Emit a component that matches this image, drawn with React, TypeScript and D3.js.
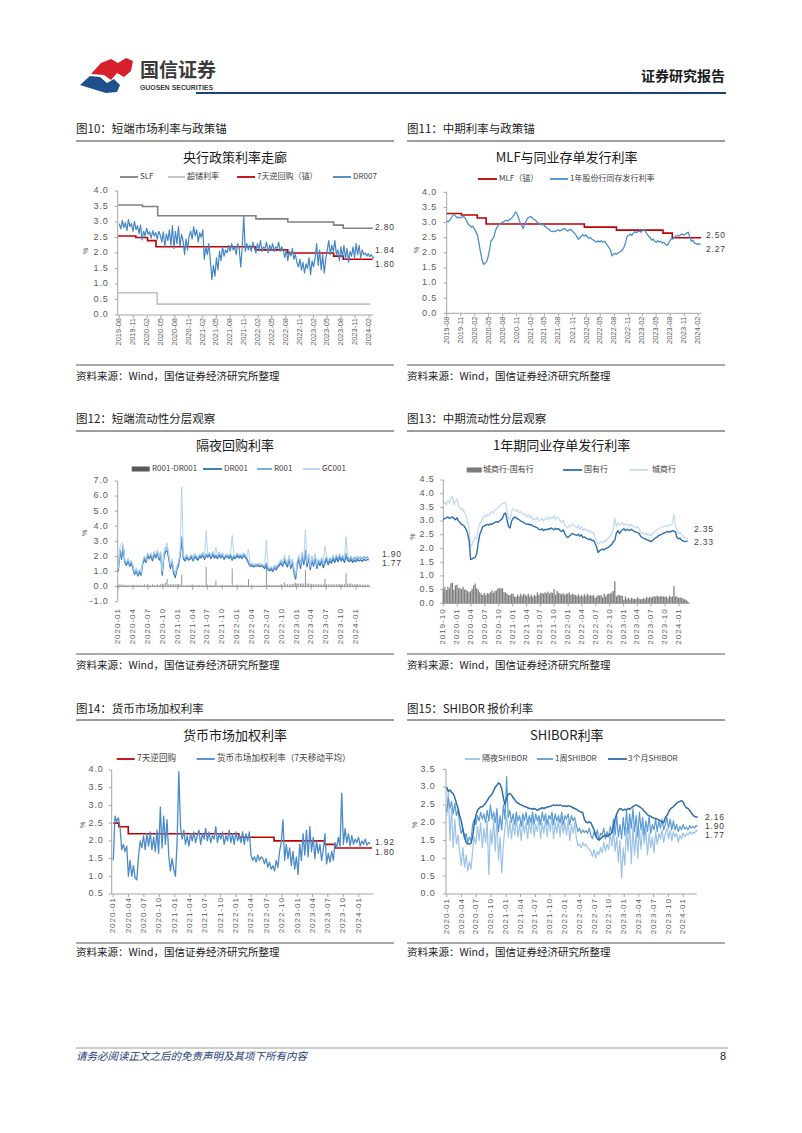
import React from 'react';
import * as d3 from 'd3';

const CJK = '"Noto Sans CJK SC","Noto Sans",sans-serif';
const NUM = '"Liberation Sans","DejaVu Sans",sans-serif';
const d = (s: string) => new Date(s + 'T00:00:00');

// ---------------- Chart 10 data ----------------
const slfDates = ['2019-07-24', '2020-01-01', '2020-04-10', '2022-01-17', '2022-08-15', '2023-06-13', '2023-08-15'];
const slfValues = [3.55, 3.5, 3.2, 3.1, 3.0, 2.9, 2.8];
const excessDates = ['2019-07-24', '2020-04-07'];
const excessValues = [0.72, 0.35];
const rrDates10 = ['2019-07-24', '2019-11-18', '2020-02-03', '2020-03-30', '2022-01-17', '2022-08-15', '2023-06-13', '2023-08-15'];
const rrValues10 = [2.55, 2.5, 2.4, 2.2, 2.1, 2.0, 1.9, 1.8];
const dr007 = [
  2.95, 2.78, 3.05, 2.82, 2.98, 2.72, 3.08, 2.85, 2.95, 2.7, 3.02,
  2.75, 2.88, 2.62, 2.9, 2.42, 2.7, 2.55, 2.8, 2.6,
  2.68, 2.48, 2.72, 2.55, 2.66, 2.45, 2.7, 2.58,
  2.35, 2.68, 2.2, 2.62, 2.4, 2.75,
  2.25, 2.88, 2.15, 2.7, 2.3, 2.85, 2.2, 2.6, 2.4,
  1.95, 2.45, 2.1, 2.55,
  2.7, 2.45, 2.85, 2.55, 2.75, 2.35, 2.65, 2.5,
  2.75, 1.8,
  2.2, 1.95, 2.3, 1.75,
  1.15, 1.6, 1.25, 1.85, 1.45,
  2.05, 1.75, 2.2, 1.9, 2.1, 2.0,
  2.25, 2.05, 2.3, 2.1, 2.2, 1.95, 2.3, 2.15, 1.55,
  2.2, 3.2, 2.05, 2.3,
  2.1, 2.25, 2.05, 2.35, 2.15, 2.0, 2.3, 2.1, 2.4, 2.05, 2.2, 2.15, 2.35, 2.0, 2.25, 2.1, 2.3, 2.05, 2.2, 2.15, 2.35, 2.05, 2.2, 2.1,
  1.85, 2.1, 1.75, 2.05, 1.9, 2.15, 1.8, 1.95, 1.7,
  1.55, 1.8, 1.45, 1.7, 1.35, 1.65, 1.5, 1.85, 1.3, 1.75, 1.55, 1.85,
  2.3, 1.6, 2.1, 1.45, 1.95, 1.35, 1.8, 2.1,
  2.4, 1.95, 2.25, 2.05, 2.4, 1.95,
  2.1, 1.75, 2.2, 1.85, 2.25, 1.8, 2.15, 1.7, 2.05, 1.9, 2.2,
  1.85, 2.3, 1.95, 2.25, 1.85, 2.1, 1.95,
  2.0, 1.9, 1.98, 1.88, 1.95, 1.86, 1.84,
];

// ---------------- Chart 11 data ----------------
const mlfDates = ['2019-08-01', '2019-11-05', '2020-02-17', '2020-04-15', '2022-01-17', '2022-08-15', '2023-06-15', '2023-08-15'];
const mlfValues = [3.3, 3.25, 3.15, 2.95, 2.85, 2.75, 2.65, 2.5];
const ncdJointStock = [
  3.05, 3.02, 3.08, 3.15, 3.25, 3.28, 3.2, 3.15, 3.18, 3.15,
  3.18, 3.2, 3.15, 3.05, 2.95, 2.9, 2.85, 2.88, 2.8, 2.7,
  2.6, 2.35, 2.05, 1.8, 1.62, 1.65, 1.7, 1.85, 2.1, 2.4,
  2.45, 2.55, 2.75, 2.85, 2.92, 2.95, 3.0, 3.02, 3.05, 3.08,
  3.05, 3.1, 3.12, 3.18, 3.25, 3.35, 3.3, 3.15, 3.0, 2.9,
  2.8, 2.95, 3.05, 3.15, 3.18, 3.2, 3.15, 3.1, 3.08, 3.02,
  2.98, 2.95, 2.92, 2.95, 2.88, 2.85, 2.8, 2.78, 2.72, 2.7,
  2.72, 2.7, 2.74, 2.76, 2.72, 2.75, 2.78, 2.8, 2.76, 2.72,
  2.75, 2.78, 2.72, 2.68, 2.62, 2.55, 2.45, 2.5, 2.55, 2.6,
  2.55, 2.6, 2.52, 2.48, 2.5, 2.45, 2.42, 2.38, 2.35, 2.4,
  2.36, 2.4, 2.35, 2.38, 2.33, 2.25, 2.18, 2.1, 1.9, 1.95,
  1.98, 1.95, 2.0, 2.02, 2.05, 2.1, 2.2, 2.35, 2.55, 2.58,
  2.62, 2.58, 2.65, 2.7, 2.66, 2.7, 2.72, 2.68, 2.75, 2.78,
  2.7, 2.62, 2.55, 2.5, 2.42, 2.45, 2.38, 2.35, 2.4, 2.36,
  2.38, 2.32, 2.35, 2.28, 2.25, 2.3, 2.4, 2.48, 2.45, 2.52,
  2.55, 2.58, 2.55, 2.6, 2.62, 2.58, 2.62, 2.65, 2.68, 2.5,
  2.38, 2.42, 2.32, 2.3, 2.28, 2.3, 2.27,
];

// ---------------- Chart 12 data ----------------
const dr001 = [
  1.0, 2.3, 1.8, 2.6, 1.6, 1.4, 1.7, 1.35, 1.55, 1.2,
  0.8, 1.05, 0.7, 0.95, 0.75, 1.5, 1.8, 1.6, 2.0, 1.85,
  2.05, 1.7, 2.15, 1.9, 2.2, 1.75, 2.1, 0.75, 1.95, 2.3,
  2.4, 1.85, 1.2, 1.6, 0.9, 0.6, 1.1, 1.4, 2.05, 3.0,
  1.85, 1.7, 1.95, 1.75, 1.8, 1.95, 1.7, 2.0, 1.85, 1.75,
  2.0, 1.9, 2.1, 1.8, 2.05, 1.95, 2.1, 1.85, 2.15, 1.9,
  2.0, 1.85, 2.1, 1.9, 2.05, 1.8, 1.95, 2.0, 1.85, 2.05,
  1.75, 1.95, 1.85, 2.05, 1.9, 2.0, 1.85, 2.05, 1.95, 1.8,
  1.55, 1.35, 1.4, 1.3, 1.38, 1.35, 1.4, 1.32, 1.38, 1.3,
  1.2, 1.45, 1.1, 1.05, 1.15, 1.0, 1.25, 1.1, 1.3, 1.4,
  1.55, 1.35, 1.7, 1.5, 1.3, 1.85, 1.2, 1.6, 0.9, 0.5,
  1.4, 1.8, 1.2, 2.0, 1.45, 2.2, 1.3, 1.9, 1.1, 1.75,
  1.35, 1.95, 1.2, 1.6, 1.4, 1.7, 1.25, 1.55, 1.8, 1.45,
  1.7, 1.55, 1.85, 1.6, 1.9, 1.65, 1.95, 1.7, 1.85, 1.6,
  2.0, 1.75, 1.65, 1.8, 1.6, 1.75, 1.65, 1.8, 1.7, 1.78,
  1.68, 1.82, 1.72, 1.8, 1.77,
];
const r001 = [
  1.1, 2.45, 1.9, 2.75, 1.7, 1.5, 1.8, 1.45, 1.65, 1.3,
  0.9, 1.15, 0.8, 1.05, 0.85, 1.6, 1.95, 1.7, 2.15, 1.95,
  2.15, 1.85, 2.25, 2.0, 2.35, 1.85, 2.25, 0.95, 2.1, 2.55,
  2.6, 2.0, 1.35, 1.75, 1.05, 0.75, 1.25, 1.55, 2.2, 3.3,
  1.95, 1.8, 2.05, 1.85, 1.9, 2.05, 1.8, 2.1, 1.95, 1.85,
  2.1, 2.0, 2.2, 1.9, 2.15, 2.05, 2.2, 1.95, 2.25, 2.0,
  2.1, 1.95, 2.2, 2.0, 2.15, 1.9, 2.05, 2.1, 1.95, 2.15,
  1.85, 2.05, 1.95, 2.15, 2.0, 2.1, 1.95, 2.15, 2.05, 1.9,
  1.65, 1.42, 1.48, 1.38, 1.45, 1.42, 1.48, 1.4, 1.45, 1.38,
  1.3, 1.55, 1.2, 1.15, 1.25, 1.1, 1.35, 1.2, 1.4, 1.5,
  1.7, 1.45, 1.85, 1.65, 1.45, 2.0, 1.35, 1.75, 1.1, 0.65,
  1.6, 2.0, 1.4, 2.2, 1.65, 2.4, 1.5, 2.1, 1.25, 1.95,
  1.5, 2.1, 1.35, 1.75, 1.55, 1.85, 1.4, 1.7, 1.95, 1.6,
  1.85, 1.7, 2.0, 1.75, 2.05, 1.8, 2.1, 1.85, 2.0, 1.75,
  2.2, 1.9, 1.8, 1.95, 1.75, 1.9, 1.8, 1.95, 1.85, 1.92,
  1.85, 1.96, 1.88, 1.94, 1.9,
];
const gc001 = [
  1.2, 2.6, 2.9, 2.8, 1.8, 1.6, 1.9, 1.55, 1.75, 1.4,
  1.0, 1.25, 0.9, 1.15, 0.95, 1.7, 2.05, 1.8, 2.25, 2.05,
  2.25, 1.95, 2.35, 2.1, 2.45, 1.95, 2.35, 1.05, 2.2, 2.65,
  2.9, 2.1, 1.45, 1.85, 1.15, 0.85, 1.35, 1.65, 2.3, 6.6,
  2.05, 1.9, 2.15, 1.95, 2.0, 2.15, 1.9, 2.2, 2.05, 1.95,
  2.2, 2.1, 2.3, 2.0, 3.7, 2.15, 2.3, 2.05, 2.35, 2.1,
  2.6, 2.05, 2.3, 2.1, 2.25, 2.0, 2.15, 2.2, 2.05, 2.25,
  3.4, 2.15, 2.05, 2.25, 2.1, 2.2, 2.05, 2.25, 2.15, 2.0,
  2.5, 1.5, 1.55, 1.45, 1.52, 1.5, 1.55, 1.48, 1.52, 1.45,
  1.4, 3.1, 1.3, 1.25, 1.35, 1.2, 1.45, 1.3, 1.5, 1.6,
  1.8, 1.55, 2.1, 1.75, 1.55, 2.1, 1.45, 1.85, 1.2, 0.75,
  1.7, 2.1, 1.5, 2.3, 1.75, 3.75, 1.6, 2.2, 1.35, 2.05,
  1.6, 2.2, 1.45, 1.85, 1.65, 1.95, 1.5, 2.7, 2.05, 1.7,
  1.95, 1.8, 2.1, 1.85, 2.15, 1.9, 2.2, 1.95, 2.1, 1.85,
  3.3, 2.0, 1.9, 2.05, 1.85, 2.0, 1.9, 2.05, 1.95, 2.0,
  1.95, 2.05, 1.98, 2.02, 1.92,
];
const r001Spread = [
  0.1, 0.15, 0.1, 0.15, 0.1, 0.1, 0.1, 0.1, 0.1, 0.1,
  0.1, 0.1, 0.1, 0.1, 0.1, 0.1, 0.15, 0.1, 0.15, 0.1,
  0.1, 0.15, 0.1, 0.1, 0.15, 0.1, 0.15, 0.2, 0.15, 0.25,
  0.5, 0.15, 0.15, 0.15, 0.15, 0.15, 0.15, 0.15, 0.15, 0.8,
  0.1, 0.1, 0.1, 0.1, 0.1, 0.1, 0.1, 0.1, 0.1, 0.1,
  0.1, 0.1, 0.1, 0.1, 1.3, 0.1, 0.1, 0.1, 0.1, 0.1,
  0.4, 0.1, 0.1, 0.1, 0.1, 0.1, 0.1, 0.1, 0.1, 0.1,
  1.2, 0.1, 0.1, 0.1, 0.1, 0.1, 0.1, 0.1, 0.1, 0.1,
  0.5, 0.07, 0.08, 0.08, 0.07, 0.07, 0.08, 0.08, 0.07, 0.08,
  0.1, 1.4, 0.1, 0.1, 0.1, 0.1, 0.1, 0.1, 0.1, 0.1,
  0.15, 0.1, 0.3, 0.15, 0.15, 0.15, 0.15, 0.15, 0.2, 0.25,
  0.2, 0.2, 0.2, 0.2, 0.2, 1.1, 0.2, 0.2, 0.15, 0.2,
  0.15, 0.15, 0.15, 0.15, 0.15, 0.15, 0.15, 0.5, 0.15, 0.15,
  0.15, 0.15, 0.15, 0.15, 0.15, 0.15, 0.15, 0.15, 0.15, 0.15,
  0.9, 0.2, 0.2, 0.2, 0.15, 0.15, 0.15, 0.15, 0.15, 0.14,
  0.12, 0.14, 0.12, 0.14, 0.13,
];

// ---------------- Chart 13 data ----------------
const stateBanks = [
  3.05, 3.1, 3.12, 3.15, 3.1, 3.12, 3.15, 3.1, 3.05, 3.12,
  3.0, 2.95, 2.88, 2.85, 2.8, 2.7, 2.55, 2.3, 1.6, 1.62,
  1.65, 1.68, 1.8, 2.2, 2.5, 2.65, 2.8, 2.82, 2.85, 2.88,
  2.85, 2.9, 2.88, 2.92, 2.95, 2.98, 2.95, 3.0, 3.05, 3.1,
  3.25, 3.3, 3.05, 2.8, 2.75, 3.0, 3.1, 3.15, 3.12, 3.08,
  3.05, 3.0, 2.98, 2.95, 2.9, 2.88, 2.9, 2.85, 2.88, 2.82,
  2.8, 2.78, 2.75, 2.7, 2.68, 2.72, 2.65, 2.7, 2.68, 2.72,
  2.7, 2.75, 2.72, 2.68, 2.74, 2.7, 2.72, 2.65, 2.62, 2.68,
  2.55, 2.45, 2.4, 2.45, 2.5, 2.55, 2.52, 2.5, 2.48, 2.52,
  2.45, 2.5, 2.4, 2.42, 2.38, 2.35, 2.32, 2.35, 2.28, 2.3,
  2.2, 2.05, 1.85, 1.92, 1.95, 1.98, 1.95, 2.0, 2.02, 2.05,
  2.1, 2.15, 2.25, 2.3, 2.55, 2.65, 2.55, 2.62, 2.68, 2.72,
  2.65, 2.7, 2.68, 2.66, 2.7, 2.65, 2.62, 2.6, 2.58, 2.55,
  2.45, 2.4, 2.38, 2.35, 2.32, 2.3, 2.28, 2.25, 2.3, 2.35,
  2.4, 2.42, 2.48, 2.5, 2.52, 2.55, 2.58, 2.6, 2.62, 2.6,
  2.62, 2.65, 2.63, 2.6, 2.4, 2.35, 2.38, 2.3, 2.28, 2.25,
  2.26, 2.28,
];
const cityBanks = [
  3.55, 3.7, 3.6, 3.75, 3.65, 3.85, 3.9, 3.6, 3.7, 3.8,
  3.55, 3.5, 3.4, 3.45, 3.3, 3.2, 3.0, 2.7, 2.05, 2.15,
  2.3, 2.4, 2.35, 2.7, 2.9, 3.0, 3.1, 3.2, 3.15, 3.25,
  3.2, 3.3, 3.35, 3.3, 3.4, 3.45, 3.5, 3.55, 3.6, 3.65,
  3.65, 3.7, 3.4, 3.1, 3.05, 3.35, 3.45, 3.4, 3.35, 3.4,
  3.3, 3.35, 3.25, 3.3, 3.2, 3.15, 3.25, 3.1, 3.2, 3.05,
  3.1, 3.05, 3.15, 3.0, 3.05, 3.1, 3.0, 3.1, 3.05, 3.15,
  3.05, 3.15, 3.1, 3.2, 3.05, 3.15, 3.1, 3.0, 2.95, 3.05,
  2.85, 2.8, 2.75, 2.85, 2.8, 2.9, 2.85, 2.8, 2.75, 2.85,
  2.7, 2.8, 2.65, 2.75, 2.65, 2.7, 2.6, 2.65, 2.55, 2.6,
  2.4, 2.3, 2.15, 2.2, 2.25, 2.2, 2.3, 2.25, 2.35, 2.4,
  2.45, 2.55, 2.7, 3.1, 2.8, 2.95, 2.85, 2.9, 2.95, 2.85,
  2.9, 2.85, 2.88, 2.8, 2.9, 2.82, 2.78, 2.75, 2.8, 2.72,
  2.6, 2.55, 2.58, 2.5, 2.55, 2.48, 2.52, 2.45, 2.55, 2.6,
  2.65, 2.7, 2.72, 2.75, 2.78, 2.8, 2.82, 2.85, 2.8, 2.88,
  2.85, 2.9, 3.25, 2.85, 2.65, 2.55, 2.6, 2.5, 2.45, 2.4,
  2.38, 2.35,
];
const citySpread = [
  0.5, 0.6, 0.48, 0.6, 0.55, 0.73, 0.75, 0.5, 0.65, 0.68,
  0.55, 0.55, 0.52, 0.6, 0.5, 0.5, 0.45, 0.4, 0.45, 0.53,
  0.65, 0.72, 0.55, 0.5, 0.4, 0.35, 0.3, 0.38, 0.3, 0.37,
  0.35, 0.4, 0.47, 0.38, 0.45, 0.47, 0.55, 0.55, 0.55, 0.55,
  0.4, 0.4, 0.35, 0.3, 0.3, 0.35, 0.35, 0.25, 0.23, 0.32,
  0.25, 0.35, 0.27, 0.35, 0.3, 0.27, 0.35, 0.25, 0.32, 0.23,
  0.3, 0.27, 0.4, 0.3, 0.37, 0.38, 0.35, 0.4, 0.37, 0.43,
  0.35, 0.4, 0.38, 0.52, 0.31, 0.45, 0.38, 0.35, 0.33, 0.37,
  0.3, 0.35, 0.35, 0.4, 0.3, 0.35, 0.33, 0.3, 0.27, 0.33,
  0.25, 0.3, 0.25, 0.33, 0.27, 0.35, 0.28, 0.3, 0.27, 0.3,
  0.2, 0.25, 0.3, 0.28, 0.3, 0.22, 0.35, 0.25, 0.33, 0.35,
  0.35, 0.4, 0.45, 0.8, 0.25, 0.3, 0.3, 0.28, 0.27, 0.13,
  0.25, 0.15, 0.2, 0.14, 0.2, 0.17, 0.16, 0.15, 0.22, 0.17,
  0.15, 0.15, 0.2, 0.15, 0.23, 0.18, 0.24, 0.2, 0.25, 0.25,
  0.25, 0.28, 0.24, 0.25, 0.26, 0.25, 0.24, 0.25, 0.18, 0.28,
  0.23, 0.25, 0.62, 0.25, 0.25, 0.2, 0.22, 0.2, 0.17, 0.15,
  0.12, 0.07,
];

// ---------------- Chart 14 data ----------------
const rrDates14 = ['2020-01-01', '2020-02-03', '2020-03-30', '2022-01-17', '2022-08-15', '2023-06-13', '2023-08-15'];
const rrValues14 = [2.5, 2.4, 2.2, 2.1, 2.0, 1.9, 1.8];
const weightedRate = [
  1.45, 2.7, 2.55, 2.65, 2.4, 1.75, 1.9, 1.7, 1.85, 1.0,
  1.45, 1.0, 1.3, 0.95, 0.9, 1.55, 2.0, 1.8, 2.15, 1.75,
  2.2, 1.85, 2.25, 1.75, 2.1, 1.7, 2.3, 1.65, 2.95, 1.8,
  2.7, 1.9, 2.6, 1.6, 1.15, 1.5, 1.2, 1.0, 2.0, 3.95,
  2.4, 2.05, 2.3, 1.9, 2.15, 1.85, 2.2, 2.0, 2.25, 1.95,
  2.15, 2.3, 1.9, 2.2, 2.05, 2.35, 2.0, 2.25, 1.95, 2.15,
  2.05, 2.4, 1.95, 2.2, 2.05, 2.25, 1.9, 2.15, 2.0, 2.3,
  1.95, 2.2, 1.9, 2.25, 2.0, 2.15, 1.95, 2.25, 1.9, 2.2,
  2.0, 2.25, 1.6, 1.45, 1.55, 1.4, 1.6, 1.45, 1.55, 1.5,
  1.35, 1.5, 1.25, 1.4, 1.2, 1.3, 1.15, 1.45, 1.25, 1.7,
  1.95, 2.6, 1.45, 1.9, 1.5, 1.8, 1.3, 1.7, 1.2, 1.55,
  1.05, 1.9, 1.45, 2.2, 1.6, 2.3, 1.55, 2.4, 1.7, 2.1,
  1.5, 2.0, 1.65, 1.9, 1.45, 1.75, 2.2, 1.35, 1.65, 1.4,
  1.7, 1.45, 1.95, 1.8, 2.1, 1.85, 3.35, 1.9, 2.35, 1.95,
  2.2, 1.85, 2.15, 1.9, 2.05, 1.95, 2.1, 1.85, 2.0, 1.9,
  2.05, 1.88, 1.95, 1.92,
];

// ---------------- Chart 15 data ----------------
const shibor3m = [
  3.0, 2.88, 2.92, 2.85, 2.82, 2.7, 2.55, 2.4, 2.2, 2.05,
  1.8, 1.6, 1.45, 1.4, 1.4, 1.42, 1.6, 1.95, 2.2, 2.35,
  2.4, 2.45, 2.45, 2.5, 2.55, 2.62, 2.7, 2.75, 2.8, 2.9,
  3.0, 3.05, 3.12, 3.08, 2.95, 2.7, 2.5, 2.7, 2.8, 2.82,
  2.78, 2.7, 2.65, 2.58, 2.55, 2.52, 2.5, 2.48, 2.45, 2.45,
  2.42, 2.4, 2.4, 2.38, 2.4, 2.38, 2.35, 2.38, 2.4, 2.42,
  2.4, 2.42, 2.44, 2.45, 2.46, 2.48, 2.5, 2.48, 2.5, 2.48,
  2.5, 2.48, 2.46, 2.48, 2.45, 2.48, 2.46, 2.45, 2.42, 2.4,
  2.38, 2.35, 2.32, 2.3, 2.28, 2.1, 2.02, 2.0, 2.02, 2.0,
  1.9, 1.8, 1.65, 1.55, 1.52, 1.55, 1.6, 1.62, 1.65, 1.62,
  1.65, 1.68, 1.72, 1.9, 2.1, 2.25, 2.35, 2.4, 2.38, 2.35,
  2.38, 2.36, 2.4, 2.38, 2.42, 2.45, 2.48, 2.5, 2.48, 2.45,
  2.42, 2.38, 2.32, 2.28, 2.22, 2.2, 2.18, 2.15, 2.12, 2.12,
  2.1, 2.08, 2.05, 2.02, 2.0, 2.15, 2.2, 2.3, 2.38, 2.42,
  2.45, 2.5, 2.55, 2.58, 2.6, 2.62, 2.58, 2.48, 2.42, 2.4,
  2.35, 2.28, 2.22, 2.18, 2.16, 2.16,
];
const shibor1w = [
  2.3, 2.7, 2.4, 2.6, 2.25, 2.55, 2.2, 2.35, 1.95, 1.7,
  1.85, 1.55, 1.7, 1.45, 1.6, 1.5, 1.95, 2.1, 1.95, 2.2,
  2.05, 2.3, 2.1, 2.25, 2.0, 2.35, 2.05, 2.5, 2.1, 2.3,
  2.0, 2.4, 1.75, 2.2, 1.8, 2.5, 2.1, 3.3, 2.15, 2.35,
  2.0, 2.25, 1.95, 2.3, 2.05, 2.2, 1.9, 2.25, 2.05, 2.3,
  1.95, 2.2, 2.0, 2.3, 1.95, 2.25, 2.05, 2.2, 1.95, 2.3,
  2.05, 2.25, 1.95, 2.2, 2.1, 2.3, 1.95, 2.25, 2.05, 2.2,
  2.0, 2.3, 1.95, 2.2, 2.1, 2.25, 1.95, 2.2, 2.05, 2.15,
  1.95, 1.75, 1.85, 1.7, 1.8, 1.72, 1.78, 1.7, 1.85, 1.65,
  1.55, 1.75, 1.6, 1.8, 1.5, 1.7, 1.65, 1.85, 1.55, 1.75,
  1.6, 1.9, 1.7, 2.1, 1.65, 2.2, 1.6, 1.95, 1.55, 2.15,
  1.65, 2.35, 1.7, 2.25, 1.85, 2.4, 1.75, 2.2, 1.6, 2.3,
  1.8, 2.15, 1.65, 2.05, 1.75, 2.2, 1.7, 1.95, 1.8, 2.1,
  1.75, 2.05, 1.85, 2.1, 1.8, 1.95, 2.15, 1.85, 2.1, 1.8,
  2.05, 1.8, 1.95, 1.75, 1.9, 1.8, 1.95, 1.82, 1.88, 1.8,
  1.92, 1.85, 1.9, 1.85, 1.92, 1.9,
];
const shiborOn = [
  2.2, 2.9, 1.5, 2.4, 1.3, 2.1, 1.4, 1.65, 1.2, 0.8,
  1.3, 0.75, 1.1, 0.65, 0.9, 0.7, 1.2, 1.6, 1.4, 1.9,
  1.5, 2.0, 1.3, 1.85, 1.45, 2.05, 0.55, 1.8, 1.4, 2.1,
  1.2, 2.2, 0.95, 1.6, 0.6, 1.4, 1.85, 2.2, 1.6, 2.05,
  1.55, 2.0, 1.65, 2.15, 1.6, 1.95, 1.5, 2.1, 1.7, 2.0,
  1.55, 2.05, 1.7, 2.2, 1.6, 1.95, 1.75, 2.15, 1.55, 2.0,
  1.7, 2.1, 1.6, 2.05, 1.75, 2.2, 1.55, 2.0, 1.7, 2.1,
  1.6, 2.15, 1.7, 2.0, 1.65, 2.05, 1.5, 1.95, 1.7, 2.0,
  1.6, 1.35, 1.4, 1.3, 1.45, 1.35, 1.4, 1.3, 1.25, 1.2,
  1.05, 1.25, 1.0, 1.2, 1.1, 1.3, 1.15, 1.45, 1.2, 1.4,
  1.25, 1.7, 1.35, 1.8, 1.2, 1.6, 0.9, 1.5, 0.45, 1.3,
  0.8, 1.85, 1.2, 2.0, 0.85, 1.9, 1.1, 1.75, 1.0, 1.8,
  1.25, 1.95, 1.4, 1.8, 1.1, 1.7, 1.3, 1.6, 1.15, 1.75,
  1.4, 1.7, 1.55, 1.8, 1.45, 1.7, 1.85, 1.55, 1.8, 1.5,
  1.75, 1.6, 1.7, 1.45, 1.65, 1.55, 1.72, 1.6, 1.7, 1.65,
  1.75, 1.68, 1.74, 1.7, 1.78, 1.77,
];

// ---------------- Chart framework ----------------
type LineS = { kind: 'line'; start: string; step: number; values: number[]; color: string; width: number };
type StepS = { kind: 'step'; dates: string[]; values: number[]; end: string; color: string; width: number };
type BarS = { kind: 'bar'; start: string; step: number; values: number[]; color: string; width: number };
type Series = LineS | StepS | BarS;
type LegendItem = { kind: 'line' | 'bar'; color: string; label: string; sx: number; sw: number; tx: number };
type Cfg = {
  left: number; right: number;
  figTitle: string; figTitleY: number; ruleY: number;
  title: string; titleX: number; titleY: number; titleSize: number;
  legendY: number; legendSize: number; legend: LegendItem[];
  yMin: number; yMax: number; yStep: number; yTop: number; yBot: number; yAxisX: number; yLabelRight: number;
  xStart: string; xEnd: string; xStartPx: number; xEndPx: number; axisEnd: number; baseValue: number;
  labelTop: number; labelSize: number; labelSpacing: number; crossTicks: boolean;
  pctX: number; pctY: number;
  endLabels: { text: string; x: number; y: number }[];
  series: Series[];
  srcRuleY: number; srcY: number;
};

function Chart({ c }: { c: Cfg }) {
  const y = d3.scaleLinear().domain([c.yMin, c.yMax]).range([c.yBot, c.yTop]);
  const x = d3.scaleTime().domain([d(c.xStart), d(c.xEnd)]).range([c.xStartPx, c.xEndPx]);
  const nY = Math.round((c.yMax - c.yMin) / c.yStep);
  const yTicks = d3.range(nY + 1).map(i => c.yMin + i * c.yStep);
  const xTicks = d3.timeMonth.range(d(c.xStart), d3.timeDay.offset(d(c.xEnd), 1), 3);
  const fmt = d3.timeFormat('%Y-%m');
  const baseY = y(c.baseValue);
  const axisColor = '#a6a6a6';

  const renderSeries = (s: Series, k: number) => {
    if (s.kind === 'line') {
      const dates = s.values.map((_, i) => d3.timeDay.offset(d(s.start), i * s.step));
      const path = d3.line<number>().x((_, i) => x(dates[i])).y(v => y(v))(s.values) || '';
      return <path key={k} d={path} fill="none" stroke={s.color} strokeWidth={s.width} strokeLinejoin="round" />;
    }
    if (s.kind === 'step') {
      const pts: [Date, number][] = s.dates.map((dt, i) => [d(dt), s.values[i]]);
      pts.push([d(s.end), s.values[s.values.length - 1]]);
      const path = d3.line<[Date, number]>().x(p => x(p[0])).y(p => y(p[1])).curve(d3.curveStepAfter)(pts) || '';
      return <path key={k} d={path} fill="none" stroke={s.color} strokeWidth={s.width} />;
    }
    const dates = s.values.map((_, i) => d3.timeDay.offset(d(s.start), i * s.step));
    return (
      <g key={k}>
        {s.values.map((v, i) => (
          <rect key={i} x={x(dates[i]) - s.width / 2} y={Math.min(y(v), y(0))} width={s.width}
            height={Math.abs(y(0) - y(v))} fill={s.color} />
        ))}
      </g>
    );
  };

  return (
    <g>
      <text x={c.left} y={c.figTitleY} fontFamily={CJK} fontSize={11.5} fill="#1a1a1a" dominantBaseline="middle">{c.figTitle}</text>
      <line x1={c.left} x2={c.right} y1={c.ruleY} y2={c.ruleY} stroke="#3a3a3a" strokeWidth={1} />
      <text x={c.titleX} y={c.titleY} textAnchor="middle" dominantBaseline="middle" fontFamily={CJK} fontSize={c.titleSize} fill="#1a1a1a">{c.title}</text>
      {c.legend.map((l, i) => (
        <g key={i}>
          {l.kind === 'line'
            ? <line x1={l.sx} x2={l.sx + l.sw} y1={c.legendY} y2={c.legendY} stroke={l.color} strokeWidth={1.8} />
            : <rect x={l.sx} y={c.legendY - 2.5} width={l.sw} height={5} fill={l.color} />}
          <text x={l.tx} y={c.legendY} dominantBaseline="middle" fontFamily={CJK} fontSize={c.legendSize} fill="#404040">{l.label}</text>
        </g>
      ))}
      <line x1={c.yAxisX} x2={c.yAxisX} y1={c.yTop} y2={c.yBot} stroke={axisColor} strokeWidth={1} />
      {yTicks.map((t, i) => (
        <g key={i}>
          <line x1={c.yAxisX - 3} x2={c.yAxisX} y1={y(t)} y2={y(t)} stroke={axisColor} />
          <text x={c.yLabelRight} y={y(t)} textAnchor="end" dominantBaseline="middle" fontFamily={NUM} fontSize={9} letterSpacing={0.8} fill="#595959">{t.toFixed(1)}</text>
        </g>
      ))}
      <text transform={`translate(${c.pctX},${c.pctY}) rotate(-90)`} textAnchor="middle" dominantBaseline="middle" fontFamily={NUM} fontSize={7} fill="#595959">%</text>
      <line x1={c.yAxisX} x2={c.axisEnd} y1={baseY} y2={baseY} stroke={axisColor} strokeWidth={1} />
      {xTicks.map((t, i) => (
        <g key={i}>
          <line x1={x(t)} x2={x(t)} y1={c.crossTicks ? baseY - 2 : baseY} y2={baseY + 3} stroke={axisColor} />
          <text transform={`translate(${x(t)},${c.labelTop}) rotate(-90)`} textAnchor="end" dominantBaseline="middle"
            fontFamily={NUM} fontSize={c.labelSize} letterSpacing={c.labelSpacing} fill="#595959">{fmt(t)}</text>
        </g>
      ))}
      {c.series.map(renderSeries)}
      {c.endLabels.map((l, i) => (
        <text key={i} x={l.x} y={l.y} dominantBaseline="middle" fontFamily={NUM} fontSize={8.5} letterSpacing={0.8} fill="#404040">{l.text}</text>
      ))}
      <line x1={c.left} x2={c.right} y1={c.srcRuleY} y2={c.srcRuleY} stroke="#555" strokeWidth={1} />
      <text x={c.left} y={c.srcY} dominantBaseline="middle" fontFamily={CJK} fontSize={10.5} fill="#1a1a1a">资料来源：Wind，国信证券经济研究所整理</text>
    </g>
  );
}

const RED = '#c00000';

const chart10: Cfg = {
  left: 76, right: 394, figTitle: '图10：短端市场利率与政策锚', figTitleY: 130, ruleY: 141,
  title: '央行政策利率走廊', titleX: 235, titleY: 158, titleSize: 13,
  legendY: 177, legendSize: 8,
  legend: [
    { kind: 'line', color: '#7f7f7f', label: 'SLF', sx: 120, sw: 18, tx: 140 },
    { kind: 'line', color: '#c0c0c0', label: '超储利率', sx: 168, sw: 17, tx: 187 },
    { kind: 'line', color: RED, label: '7天逆回购（锚）', sx: 237, sw: 18, tx: 257 },
    { kind: 'line', color: '#4585c5', label: 'DR007', sx: 333, sw: 18, tx: 353 },
  ],
  yMin: 0, yMax: 4, yStep: 0.5, yTop: 191, yBot: 315, yAxisX: 117.7, yLabelRight: 108.5,
  xStart: '2019-08-01', xEnd: '2024-02-01', xStartPx: 119.3, xEndPx: 369, axisEnd: 373, baseValue: 0,
  labelTop: 318, labelSize: 7.5, labelSpacing: 0, crossTicks: false,
  pctX: 86, pctY: 251,
  endLabels: [{ text: '2.80', x: 375, y: 228 }, { text: '1.84', x: 375, y: 250.5 }, { text: '1.80', x: 375, y: 264.5 }],
  series: [
    { kind: 'step', dates: slfDates, values: slfValues, end: '2024-02-26', color: '#808080', width: 1.6 },
    { kind: 'step', dates: excessDates, values: excessValues, end: '2024-02-08', color: '#c0c0c0', width: 1.6 },
    { kind: 'step', dates: rrDates10, values: rrValues10, end: '2024-02-26', color: RED, width: 1.6 },
    { kind: 'line', start: '2019-08-01', step: 10, values: dr007, color: '#4585c5', width: 1.2 },
  ],
  srcRuleY: 365, srcY: 377,
};

const chart11: Cfg = {
  left: 407, right: 725, figTitle: '图11：中期利率与政策锚', figTitleY: 130, ruleY: 141,
  title: 'MLF与同业存单发行利率', titleX: 566.7, titleY: 158, titleSize: 13,
  legendY: 179, legendSize: 8,
  legend: [
    { kind: 'line', color: RED, label: 'MLF（锚）', sx: 478, sw: 19, tx: 499 },
    { kind: 'line', color: '#4a8fcf', label: '1年股份行同存发行利率', sx: 550, sw: 18, tx: 570 },
  ],
  yMin: 0, yMax: 4, yStep: 0.5, yTop: 192.3, yBot: 313.3, yAxisX: 446.7, yLabelRight: 437,
  xStart: '2019-08-01', xEnd: '2024-02-01', xStartPx: 446.7, xEndPx: 698.3, axisEnd: 701.7, baseValue: 0,
  labelTop: 316.5, labelSize: 7.5, labelSpacing: 0, crossTicks: false,
  pctX: 416.7, pctY: 250,
  endLabels: [{ text: '2.50', x: 706, y: 235.7 }, { text: '2.27', x: 706, y: 249.3 }],
  series: [
    { kind: 'step', dates: mlfDates, values: mlfValues, end: '2024-02-20', color: RED, width: 1.6 },
    { kind: 'line', start: '2019-08-01', step: 10, values: ncdJointStock, color: '#4a8fcf', width: 1.3 },
  ],
  srcRuleY: 365, srcY: 377,
};

const chart12: Cfg = {
  left: 76, right: 394, figTitle: '图12：短端流动性分层观察', figTitleY: 420, ruleY: 431,
  title: '隔夜回购利率', titleX: 235, titleY: 446.7, titleSize: 13,
  legendY: 469, legendSize: 8,
  legend: [
    { kind: 'bar', color: '#595959', label: 'R001-DR001', sx: 131.7, sw: 18, tx: 152 },
    { kind: 'line', color: '#2e6fb0', label: 'DR001', sx: 203, sw: 19, tx: 224 },
    { kind: 'line', color: '#6aa6de', label: 'R001', sx: 257, sw: 15, tx: 274 },
    { kind: 'line', color: '#b4d3ef', label: 'GC001', sx: 303, sw: 17, tx: 322 },
  ],
  yMin: -1, yMax: 7, yStep: 1, yTop: 481, yBot: 601.7, yAxisX: 117.7, yLabelRight: 108.5,
  xStart: '2020-01-01', xEnd: '2024-01-01', xStartPx: 118.3, xEndPx: 356, axisEnd: 370, baseValue: 0,
  labelTop: 608, labelSize: 8, labelSpacing: 1, crossTicks: true,
  pctX: 85, pctY: 533,
  endLabels: [{ text: '1.90', x: 382, y: 554.5 }, { text: '1.77', x: 382, y: 563.5 }],
  series: [
    { kind: 'bar', start: '2020-01-01', step: 10, values: r001Spread, color: '#8a8a8a', width: 0.9 },
    { kind: 'line', start: '2020-01-01', step: 10, values: dr001, color: '#2e6fb0', width: 1.2 },
    { kind: 'line', start: '2020-01-01', step: 10, values: r001, color: '#6aa6de', width: 1.2 },
    { kind: 'line', start: '2020-01-01', step: 10, values: gc001, color: '#b4d3ef', width: 1 },
  ],
  srcRuleY: 654, srcY: 666,
};

const chart13: Cfg = {
  left: 407, right: 725, figTitle: '图13：中期流动性分层观察', figTitleY: 420, ruleY: 431,
  title: '1年期同业存单发行利率', titleX: 561.7, titleY: 446.7, titleSize: 13,
  legendY: 470, legendSize: 8,
  legend: [
    { kind: 'bar', color: '#7a7a7a', label: '城商行-国有行', sx: 466.7, sw: 15, tx: 483 },
    { kind: 'line', color: '#2f6eac', label: '国有行', sx: 563, sw: 19, tx: 584 },
    { kind: 'line', color: '#c5dcf0', label: '城商行', sx: 630, sw: 18, tx: 652 },
  ],
  yMin: 0, yMax: 4.5, yStep: 0.5, yTop: 480, yBot: 603.3, yAxisX: 443.3, yLabelRight: 434.5,
  xStart: '2019-10-01', xEnd: '2024-01-01', xStartPx: 443.3, xEndPx: 679, axisEnd: 690, baseValue: 0,
  labelTop: 608.3, labelSize: 8, labelSpacing: 1, crossTicks: false,
  pctX: 413.3, pctY: 536.7,
  endLabels: [{ text: '2.35', x: 694, y: 530 }, { text: '2.33', x: 694, y: 542.3 }],
  series: [
    { kind: 'bar', start: '2019-10-01', step: 10, values: citySpread, color: '#7f7f7f', width: 1.3 },
    { kind: 'line', start: '2019-10-01', step: 10, values: cityBanks, color: '#c5dcf0', width: 1.3 },
    { kind: 'line', start: '2019-10-01', step: 10, values: stateBanks, color: '#2f6eac', width: 1.4 },
  ],
  srcRuleY: 654, srcY: 666,
};

const chart14: Cfg = {
  left: 76, right: 394, figTitle: '图14：货币市场加权利率', figTitleY: 710, ruleY: 720,
  title: '货币市场加权利率', titleX: 235, titleY: 736, titleSize: 13,
  legendY: 759, legendSize: 8.6,
  legend: [
    { kind: 'line', color: RED, label: '7天逆回购', sx: 116.7, sw: 18, tx: 137 },
    { kind: 'line', color: '#4a8ac9', label: '货币市场加权利率（7天移动平均）', sx: 196.7, sw: 18, tx: 217 },
  ],
  yMin: 0.5, yMax: 4, yStep: 0.5, yTop: 770, yBot: 894, yAxisX: 111.7, yLabelRight: 103.5,
  xStart: '2020-01-01', xEnd: '2024-01-01', xStartPx: 113.3, xEndPx: 358.7, axisEnd: 373.3, baseValue: 0.5,
  labelTop: 897, labelSize: 8, labelSpacing: 1, crossTicks: false,
  pctX: 82.7, pctY: 825,
  endLabels: [{ text: '1.92', x: 375, y: 843 }, { text: '1.80', x: 375, y: 852.5 }],
  series: [
    { kind: 'step', dates: rrDates14, values: rrValues14, end: '2024-03-20', color: RED, width: 1.6 },
    { kind: 'line', start: '2020-01-01', step: 10, values: weightedRate, color: '#4a8ac9', width: 1.3 },
  ],
  srcRuleY: 943, srcY: 953,
};

const chart15: Cfg = {
  left: 407, right: 725, figTitle: '图15：SHIBOR 报价利率', figTitleY: 710, ruleY: 720,
  title: 'SHIBOR利率', titleX: 566.7, titleY: 736.7, titleSize: 13,
  legendY: 759, legendSize: 8,
  legend: [
    { kind: 'line', color: '#9cc3e6', label: '隔夜SHIBOR', sx: 465, sw: 15, tx: 482 },
    { kind: 'line', color: '#5b9bd5', label: '1周SHIBOR', sx: 537, sw: 16, tx: 555 },
    { kind: 'line', color: '#2e6ca8', label: '3个月SHIBOR', sx: 608, sw: 19, tx: 628 },
  ],
  yMin: 0, yMax: 3.5, yStep: 0.5, yTop: 769.3, yBot: 894, yAxisX: 446, yLabelRight: 435.5,
  xStart: '2020-01-01', xEnd: '2024-01-01', xStartPx: 446.7, xEndPx: 683.3, axisEnd: 696.7, baseValue: 0,
  labelTop: 898, labelSize: 8, labelSpacing: 1, crossTicks: false,
  pctX: 415, pctY: 825,
  endLabels: [{ text: '2.16', x: 705, y: 817.5 }, { text: '1.90', x: 705, y: 826.5 }, { text: '1.77', x: 705, y: 835.5 }],
  series: [
    { kind: 'line', start: '2020-01-01', step: 10, values: shiborOn, color: '#9cc3e6', width: 1.2 },
    { kind: 'line', start: '2020-01-01', step: 10, values: shibor1w, color: '#5b9bd5', width: 1.2 },
    { kind: 'line', start: '2020-01-01', step: 10, values: shibor3m, color: '#2e6ca8', width: 1.5 },
  ],
  srcRuleY: 943, srcY: 953,
};

const charts = [chart10, chart11, chart12, chart13, chart14, chart15];

export default function App() {
  return (
    <svg width={802} height={1133} viewBox="0 0 802 1133" style={{ position: 'absolute', left: 0, top: 0, background: '#fff' }}>
      <rect x={0} y={0} width={802} height={1133} fill="#fff" />
      <path d="M91 74 L101 63 L111 59 L118 63 L126 58 L133 61 L131 71 L124 77 L117 73 L111 80 L104 75 Z" fill="#d7202a" />
      <path d="M80 85 L90 76 L100 77 L107 83 L114 79 L120 85 L117 92 L106 93 L96 90 Z" fill="#1e4f8f" />
      <text x={140} y={72} dominantBaseline="middle" fontFamily={CJK} fontSize={19} fontWeight={700} fill="#3a3a3a">国信证券</text>
      <text x={140} y={88} dominantBaseline="middle" fontFamily={NUM} fontSize={6.8} fontWeight={700} fill="#3a3a3a" textLength={73} lengthAdjust="spacingAndGlyphs">GUOSEN SECURITIES</text>
      <text x={725} y={77} textAnchor="end" dominantBaseline="middle" fontFamily={CJK} fontSize={14} fontWeight={700} fill="#1a1a1a">证券研究报告</text>
      <line x1={196} x2={726} y1={93} y2={93} stroke="#1f3f77" strokeWidth={2} />
      {charts.map((c, i) => <Chart key={i} c={c} />)}
      <line x1={76} x2={728} y1={1048} y2={1048} stroke="#9a9a9a" strokeWidth={1} />
      <text x={76} y={1057} dominantBaseline="middle" fontFamily={CJK} fontSize={10.5} fontStyle="italic" fill="#1f3c78">请务必阅读正文之后的免责声明及其项下所有内容</text>
      <text x={726} y={1057} textAnchor="end" dominantBaseline="middle" fontFamily={NUM} fontSize={11} fill="#1a1a1a">8</text>
    </svg>
  );
}
